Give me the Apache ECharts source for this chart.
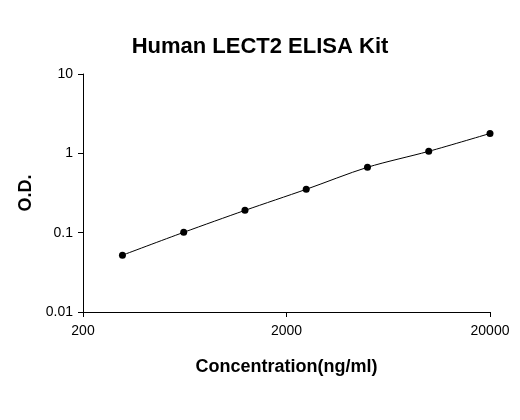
<!DOCTYPE html>
<html><head><meta charset="utf-8">
<script src="https://cdn.jsdelivr.net/npm/echarts@6/dist/echarts.min.js"></script>
<style>html,body{margin:0;padding:0;background:#fff}#c{width:520px;height:420px}</style>
</head><body><div id="c"></div>
<script>
const concentrations = [312.5, 625, 1250, 2500, 5000, 10000, 20000];
const od = [0.052, 0.101, 0.191, 0.352, 0.667, 1.06, 1.78];
const xBase = 200;
const xTickLabels = ['200', '2000', '20000'];
const yTickLabels = ['0.01', '0.1', '1', '10'];

const pts = concentrations.map((c, i) => [Math.log10(c / xBase), od[i]]);
const chart = echarts.init(document.getElementById('c'));
const font = 'Liberation Sans, Arial, sans-serif';
chart.setOption({
  animation: false,
  title: { text: 'Human LECT2 ELISA Kit', left: 'center', top: 31,
    textStyle: { fontFamily: font, fontSize: 22, fontWeight: 'bold', color: '#000' } },
  grid: { left: 83, right: 30, top: 74, bottom: 108 },
  xAxis: {
    type: 'value', min: 0, max: 2, interval: 1,
    name: 'Concentration(ng/ml)', nameLocation: 'middle', nameGap: 46,
    nameTextStyle: { fontFamily: font, fontSize: 18, fontWeight: 'bold', color: '#000' },
    axisLine: { lineStyle: { color: '#000' } },
    axisTick: { inside: false, length: 5, lineStyle: { color: '#000' } },
    axisLabel: { fontFamily: font, fontSize: 14, color: '#000', margin: 12,
      formatter: v => xTickLabels[Math.round(v)] },
    splitLine: { show: false }
  },
  yAxis: {
    type: 'log', logBase: 10, min: 0.01, max: 10,
    name: 'O.D.', nameLocation: 'middle', nameGap: 48,
    nameTextStyle: { fontFamily: font, fontSize: 18, fontWeight: 'bold', color: '#000' },
    axisLine: { show: true, lineStyle: { color: '#000' } },
    axisTick: { show: true, length: 5, lineStyle: { color: '#000' } },
    axisLabel: { fontFamily: font, fontSize: 14, color: '#000', margin: 10,
      formatter: v => { const s = String(+v.toPrecision(2)); return yTickLabels.includes(s) ? s : ''; } },
    splitLine: { show: false }
  },
  series: [{
    type: 'line', data: pts, smooth: 0.3, symbol: 'circle', symbolSize: 7,
    itemStyle: { color: '#000' }, lineStyle: { color: '#000', width: 1 }
  }]
});
</script></body></html>
